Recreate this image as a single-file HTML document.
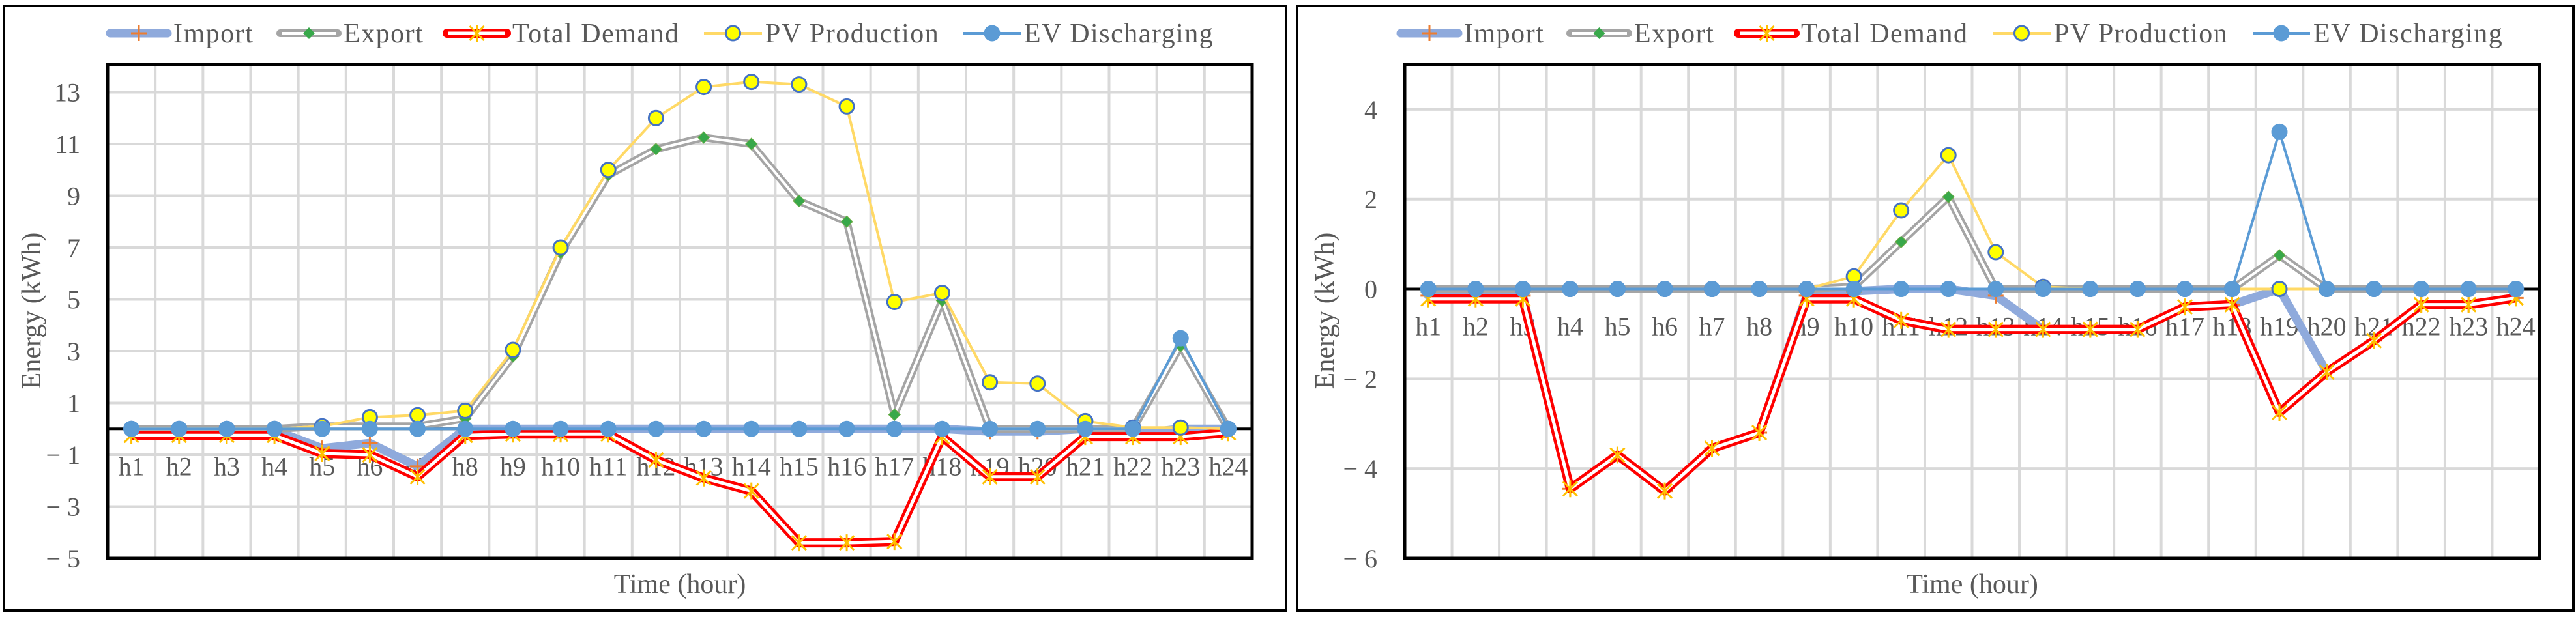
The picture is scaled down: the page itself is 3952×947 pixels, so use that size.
<!DOCTYPE html>
<html><head><meta charset="utf-8"><style>
html,body{margin:0;padding:0;background:#fff;width:3952px;height:947px;overflow:hidden}
svg text{font-family:"Liberation Serif",serif;fill:#595959}
</style></head><body>
<svg id="svg" width="3952" height="947" viewBox="0 0 3952 947" xmlns="http://www.w3.org/2000/svg"></svg>
<script>
const categories=["h1","h2","h3","h4","h5","h6","h7","h8","h9","h10","h11","h12","h13","h14","h15","h16","h17","h18","h19","h20","h21","h22","h23","h24"];
const seriesNames=["Import","Export","Total Demand","PV Production","EV Discharging"];
const c1Import=[-0.05,-0.05,-0.05,-0.05,-0.75,-0.55,-1.45,0,0,0,0,0,0,0,0,0,0,0,-0.1,-0.1,0,-0.2,0,0];
const c1Export=[0,0,0,0,0.1,0.1,0.1,0.4,2.8,6.8,9.8,10.8,11.25,11.0,8.8,8.0,0.55,4.95,0,0,0,0,3.2,0];
const c1Demand=[-0.25,-0.25,-0.25,-0.25,-0.95,-1.0,-1.85,-0.25,-0.2,-0.2,-0.2,-1.2,-1.9,-2.4,-4.4,-4.4,-4.35,-0.3,-1.85,-1.85,-0.3,-0.3,-0.3,-0.15];
const c1PV=[0,0,0,0,0.1,0.45,0.53,0.7,3.05,7.0,10.0,12.0,13.2,13.4,13.3,12.45,4.9,5.25,1.8,1.75,0.3,0.05,0.05,0];
const c1EV=[0,0,0,0,0,0,0,0,0,0,0,0,0,0,0,0,0,0,0,0,0,0,3.5,0];
const c1Ticks=[-5,-3,-1,1,3,5,7,9,11,13];
const c2Import=[-0.15,-0.15,-0.15,-4.45,-3.7,-4.5,-3.55,-3.2,-0.15,-0.05,0,0,-0.15,-0.9,-0.9,-0.9,-0.4,-0.35,0,-1.85,-1.15,-0.35,-0.35,-0.2];
const c2Export=[0,0,0,0,0,0,0,0,0,0.05,1.05,2.05,0,0,0,0,0,0,0.75,0,0,0,0,0];
const c2Demand=[-0.22,-0.22,-0.22,-4.45,-3.7,-4.5,-3.55,-3.2,-0.22,-0.22,-0.7,-0.9,-0.9,-0.9,-0.9,-0.9,-0.4,-0.35,-2.75,-1.85,-1.15,-0.35,-0.35,-0.2];
const c2PV=[0,0,0,0,0,0,0,0,0,0.28,1.75,2.98,0.82,0.05,0,0,0,0,0,0,0,0,0,0];
const c2EV=[0,0,0,0,0,0,0,0,0,0,0,0,0,0,0,0,0,0,3.5,0,0,0,0,0];
const c2Ticks=[-6,-4,-2,0,2,4];

const svg=document.getElementById('svg');
const NS="http://www.w3.org/2000/svg";
function mk(tag,attrs,parent){const e=document.createElementNS(NS,tag);for(const k in attrs)e.setAttribute(k,attrs[k]);(parent||svg).appendChild(e);return e;}

function drawChart(cfg){
  const g=mk('g',{});
  
  
  const L=cfg.L,R=cfg.R,T=99,B=857;
  const ys=v=>B-(v-cfg.min)/(cfg.max-cfg.min)*(B-T);
  const bw=(R-L)/categories.length;
  const xs=i=>L+bw*(i+0.5);
  const frame=mk('rect',{x:cfg.ox,y:9,width:cfg.ow,height:928,fill:'#fff',stroke:'#000','stroke-width':4},g);
  
  
  // grid
  for(let i=1;i<categories.length;i++){mk('line',{x1:L+bw*i,x2:L+bw*i,y1:T,y2:B,stroke:'#d9d9d9','stroke-width':4},g);}
  cfg.ticks.forEach(t=>{
    if(t!==0) mk('line',{x1:L,x2:R,y1:ys(t),y2:ys(t),stroke:'#d9d9d9','stroke-width':4},g);
    const tx=mk('text',{x:L-42,y:ys(t)+14,'font-size':40,'text-anchor':'end'},g);
    tx.textContent=t<0?'\u2212 '+Math.abs(t):String(t);
    
    
  });
  mk('line',{x1:L,x2:R,y1:ys(0),y2:ys(0),stroke:'#000','stroke-width':4},g);
  categories.forEach((c,i)=>{
    const t=mk('text',{x:xs(i),y:ys(0)+71,'font-size':40,'text-anchor':'middle'},g);
    t.textContent=c;
    
    
  });
  const pts=a=>a.map((v,i)=>xs(i)+','+ys(v)).join(' ');
  // Import
  const imp=mk('polyline',{points:pts(cfg.imp),fill:'none',stroke:'#8faadc','stroke-width':13,'stroke-linejoin':'round','stroke-linecap':'round'},g);
  
  
  cfg.imp.forEach((v,i)=>{const x=xs(i),y=ys(v);mk('path',{d:`M${x-12},${y}H${x+12}M${x},${y-12}V${y+12}`,stroke:'#ed7d31','stroke-width':3},g);});
  // Export
  const ex=mk('polyline',{points:pts(cfg.exp),fill:'none',stroke:'#a5a5a5','stroke-width':12,'stroke-linejoin':'round'},g);
  
  
  mk('polyline',{points:pts(cfg.exp),fill:'none',stroke:'#fff','stroke-width':4,'stroke-linejoin':'round'},g);
  cfg.exp.forEach((v,i)=>{const x=xs(i),y=ys(v);mk('path',{d:`M${x},${y-9}L${x+9},${y}L${x},${y+9}L${x-9},${y}Z`,fill:'#38a84a',stroke:'#70ad47','stroke-width':1},g);});
  // Demand
  const dm=mk('polyline',{points:pts(cfg.dem),fill:'none',stroke:'#ff0000','stroke-width':14,'stroke-linejoin':'round'},g);
  
  
  mk('polyline',{points:pts(cfg.dem),fill:'none',stroke:'#fff','stroke-width':5,'stroke-linejoin':'round'},g);
  cfg.dem.forEach((v,i)=>{const x=xs(i),y=ys(v);mk('path',{d:`M${x-11},${y-11}L${x+11},${y+11}M${x+11},${y-11}L${x-11},${y+11}M${x},${y-13}V${y+13}`,stroke:'#ffc000','stroke-width':3},g);});
  // PV
  const pv=mk('polyline',{points:pts(cfg.pv),fill:'none',stroke:'#ffd966','stroke-width':4,'stroke-linejoin':'round'},g);
  
  
  cfg.pv.forEach((v,i)=>{mk('circle',{cx:xs(i),cy:ys(v),r:11,fill:'#ffff00',stroke:'#4472c4','stroke-width':3},g);});
  // EV
  const ev=mk('polyline',{points:pts(cfg.ev),fill:'none',stroke:'#5b9bd5','stroke-width':4,'stroke-linejoin':'round'},g);
  
  
  cfg.ev.forEach((v,i)=>{mk('circle',{cx:xs(i),cy:ys(v),r:12.5,fill:'#5b9bd5'},g);});
  mk('rect',{x:L,y:T,width:R-L,height:B-T,fill:'none',stroke:'#000','stroke-width':5},g);
  // axis titles
  const yt=mk('text',{x:0,y:0,'font-size':42,'text-anchor':'middle',transform:`translate(${cfg.ytx},477) rotate(-90)`},g);
  yt.textContent='Energy (kWh)';
  
  
  const xt=mk('text',{x:(L+R)/2,y:910,'font-size':42,'text-anchor':'middle'},g);
  xt.textContent='Time (hour)';
  
  
  // legend
  const lx=cfg.legend;
  const ly=51;
  const legendNames=['legend-import','legend-export','legend-total-demand','legend-pv-production','legend-ev-discharging'];
  seriesNames.forEach((n,k)=>{
    const x0=lx[k][0],x1=lx[k][1],mx=(x0+x1)/2;
    const lg=mk('g',{},g);
    
    
    if(k===0){mk('line',{x1:x0+4,x2:x1-4,y1:ly,y2:ly,stroke:'#8faadc','stroke-width':13,'stroke-linecap':'round'},lg);mk('path',{d:`M${mx-12},${ly}H${mx+12}M${mx},${ly-12}V${ly+12}`,stroke:'#ed7d31','stroke-width':3},lg);}
    if(k===1){mk('line',{x1:x0+4,x2:x1-4,y1:ly,y2:ly,stroke:'#a5a5a5','stroke-width':12,'stroke-linecap':'round'},lg);mk('line',{x1:x0+6,x2:x1-6,y1:ly,y2:ly,stroke:'#fff','stroke-width':4},lg);mk('path',{d:`M${mx},${ly-9}L${mx+9},${ly}L${mx},${ly+9}L${mx-9},${ly}Z`,fill:'#38a84a'},lg);}
    if(k===2){mk('line',{x1:x0+4,x2:x1-4,y1:ly,y2:ly,stroke:'#ff0000','stroke-width':14,'stroke-linecap':'round'},lg);mk('line',{x1:x0+6,x2:x1-6,y1:ly,y2:ly,stroke:'#fff','stroke-width':5},lg);mk('path',{d:`M${mx-11},${ly-11}L${mx+11},${ly+11}M${mx+11},${ly-11}L${mx-11},${ly+11}M${mx},${ly-13}V${ly+13}`,stroke:'#ffc000','stroke-width':3},lg);}
    if(k===3){mk('line',{x1:x0,x2:x1,y1:ly,y2:ly,stroke:'#ffd966','stroke-width':4},lg);mk('circle',{cx:mx,cy:ly,r:11,fill:'#ffff00',stroke:'#4472c4','stroke-width':3},lg);}
    if(k===4){mk('line',{x1:x0,x2:x1,y1:ly,y2:ly,stroke:'#5b9bd5','stroke-width':4},lg);mk('circle',{cx:mx,cy:ly,r:12.5,fill:'#5b9bd5'},lg);}
    const t=mk('text',{x:x1+5,y:ly+14,'font-size':42,'letter-spacing':1.5},lg);
    t.textContent=n;
  });
}
drawChart({name:'chart-left',ox:6,ow:1967,L:165,R:1921,min:-5,max:14.07,ticks:c1Ticks,imp:c1Import,exp:c1Export,dem:c1Demand,pv:c1PV,ev:c1EV,ytx:62,
  legend:[[165,261],[426,522],[682,781],[1080,1169],[1478,1566]]});
drawChart({name:'chart-right',ox:1990,ow:1958,L:2155,R:3896,min:-6,max:5,ticks:c2Ticks,imp:c2Import,exp:c2Export,dem:c2Demand,pv:c2PV,ev:c2EV,ytx:2046,
  legend:[[2145,2241],[2405,2502],[2663,2758],[3057,3146],[3456,3544]]});
</script>
</body></html>
